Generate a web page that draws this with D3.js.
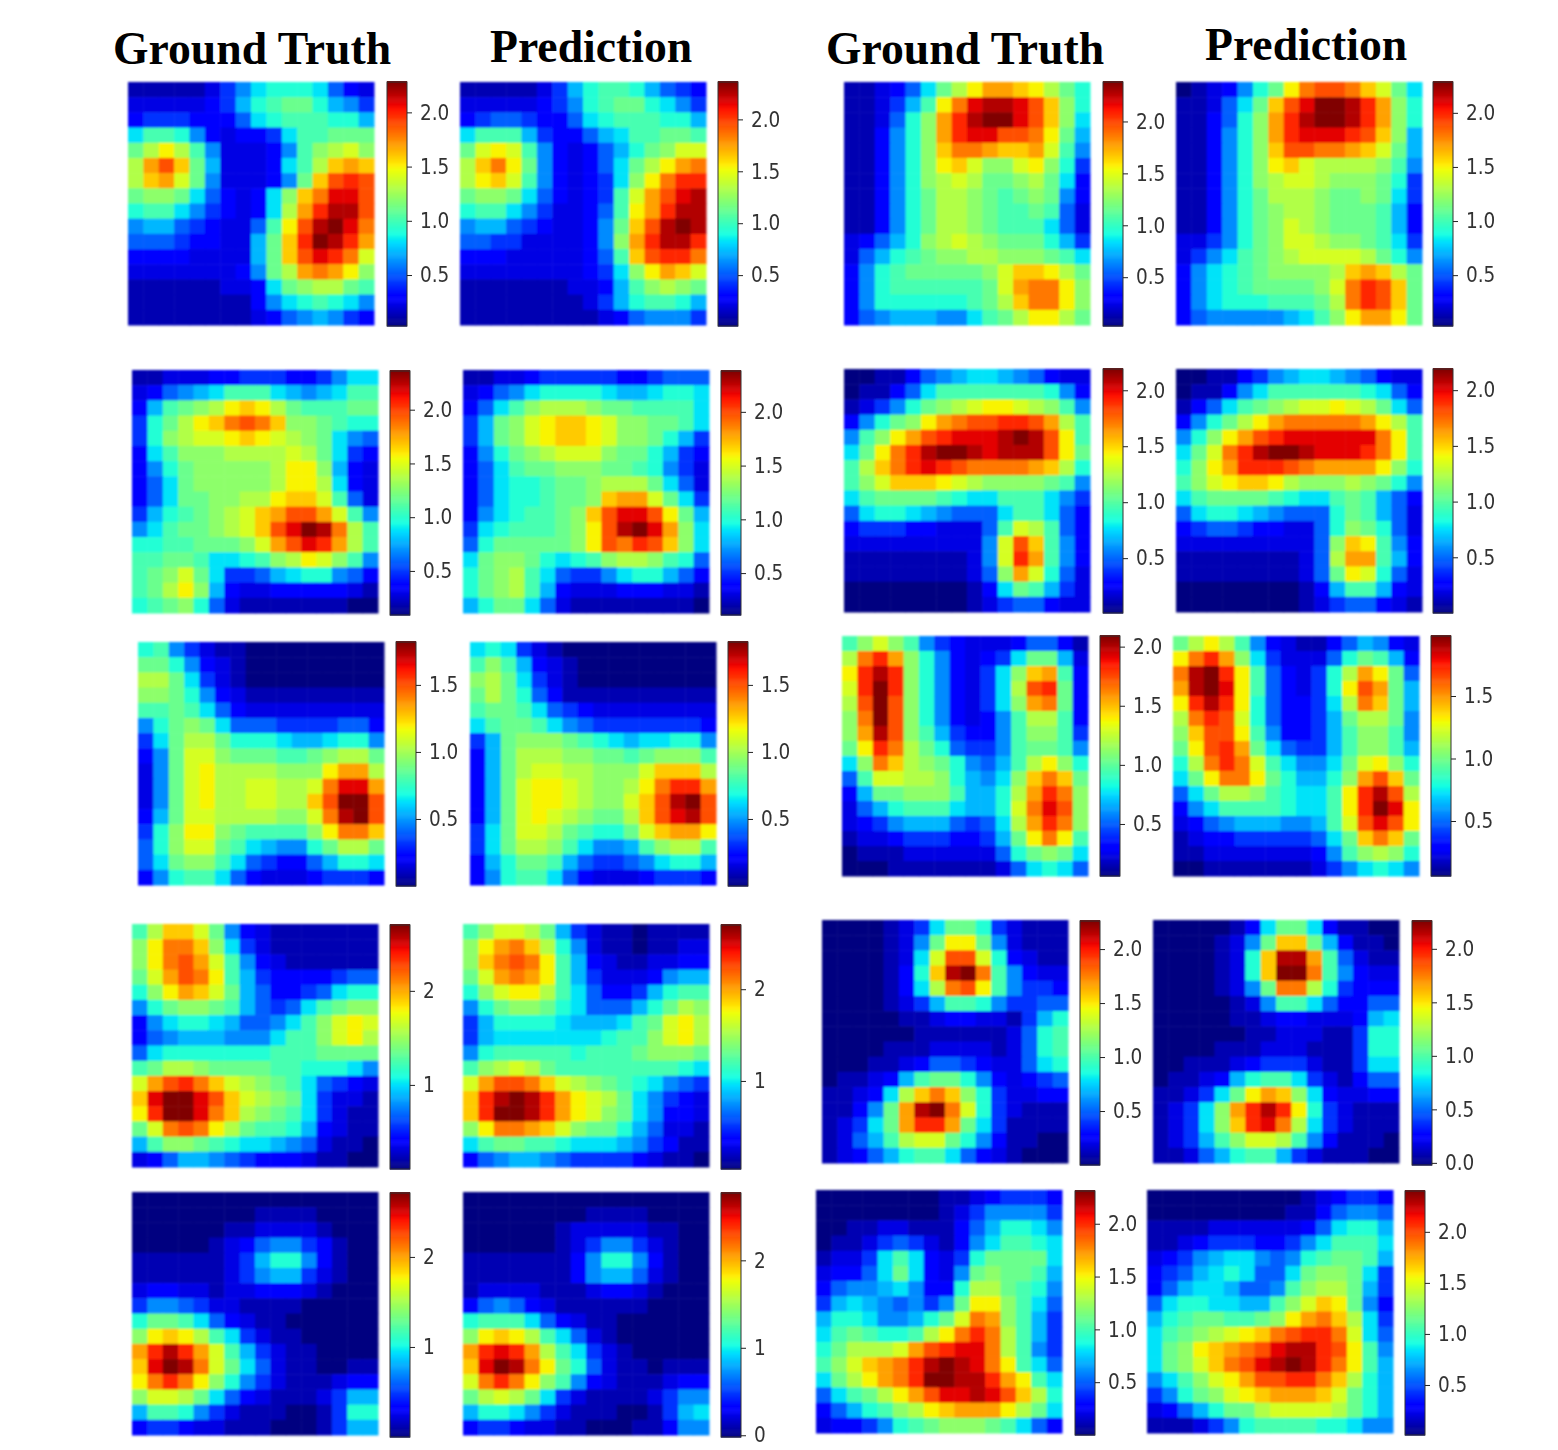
<!DOCTYPE html>
<html>
<head>
<meta charset="utf-8">
<script src="https://d3js.org/d3.v7.min.js"></script>
<style>
  html, body { margin: 0; padding: 0; background: #fff; }
  svg { display: block; }
  .tick text { font-family: "DejaVu Sans", sans-serif; font-size: 21px; fill: #333; }
  .title { font-family: "Liberation Serif", serif; font-weight: bold; font-size: 45.7px; fill: #000; }
</style>
</head>
<body>
<svg id="chart" width="1558" height="1450"></svg>
<script>
// cell values, as steps on the colour range (0 = bottom of colorbar, 23 = top)
var gt1 = [
[1,1,1,1,1,2,4,6,8,9,9,9,8,5,3,2],[2,2,2,2,2,3,4,7,9,10,11,11,9,7,6,4],[3,4,4,4,3,3,3,5,8,9,10,10,10,9,9,7],[8,10,10,9,6,3,2,3,3,4,8,10,10,11,11,11],
[11,13,15,13,10,6,2,2,2,3,6,10,12,13,14,12],[13,17,19,16,11,7,2,2,2,3,8,10,13,16,17,16],[13,16,17,14,11,6,2,2,2,3,6,11,16,19,20,19],[11,12,12,11,8,5,3,2,3,8,12,16,18,21,21,19],
[9,10,10,8,6,4,3,2,3,8,13,17,20,22,22,19],[6,7,7,5,4,3,2,2,5,10,15,19,22,23,21,18],[5,5,5,4,3,3,2,2,7,11,16,20,23,22,20,17],[3,3,3,3,2,2,2,2,7,11,16,19,21,20,18,14],
[2,2,2,2,2,2,2,3,6,11,13,17,18,17,15,12],[1,1,1,1,1,1,2,2,3,8,11,12,13,13,11,10],[1,1,1,1,1,1,1,1,3,6,8,9,10,9,8,6],[1,1,1,1,1,1,1,1,2,3,5,6,7,6,4,3]];
var pred1 = [
[1,1,1,1,1,2,4,7,9,10,10,9,7,5,4,3],[2,2,2,2,2,3,4,6,9,10,11,11,9,8,6,4],[3,4,5,5,4,3,3,5,8,9,10,10,10,9,9,7],[8,10,10,10,7,4,3,3,5,7,8,10,10,11,11,10],
[11,14,15,14,10,6,3,2,3,5,7,9,11,12,14,14],[13,16,18,15,11,6,3,2,3,5,8,11,13,15,17,18],[13,15,16,14,10,6,3,2,3,4,8,12,15,18,20,20],[11,12,12,11,8,5,3,2,3,4,10,14,17,19,21,22],
[9,10,10,8,6,4,2,2,3,5,10,15,17,20,22,22],[6,7,7,5,4,3,2,2,3,6,11,16,19,22,23,22],[5,5,4,4,2,2,2,2,3,6,12,17,20,22,22,20],[3,3,3,2,2,2,2,2,3,5,10,16,19,20,20,18],
[2,2,2,2,2,2,2,2,3,4,8,12,15,17,16,14],[1,1,1,1,1,1,1,2,2,3,7,10,12,13,12,11],[1,1,1,1,1,1,1,1,2,4,7,9,10,10,9,7],[1,1,1,1,1,1,1,1,1,2,3,5,6,6,6,4]];
var gt2 = [
[1,1,2,3,5,8,11,13,15,17,17,16,15,13,11,9],[1,1,2,4,7,10,15,18,21,22,22,21,19,16,12,9],[1,1,2,5,9,12,17,20,22,23,23,21,19,16,12,8],[1,1,3,6,9,12,17,20,21,21,19,19,18,15,11,7],
[1,1,3,6,9,12,16,18,18,17,16,16,17,14,10,6],[1,1,3,6,9,12,15,16,14,12,12,14,15,12,9,4],[1,1,3,6,9,12,13,14,13,11,11,12,13,11,8,3],[1,1,3,6,9,11,13,13,12,11,10,11,12,11,6,3],
[1,1,3,6,9,11,13,13,12,11,10,10,11,10,5,2],[1,1,3,6,9,11,13,13,12,11,10,10,10,8,5,2],[2,3,5,7,9,12,13,14,13,12,11,11,11,9,7,4],[2,5,7,9,10,11,12,12,13,13,12,12,12,11,10,8],
[3,6,9,10,11,11,11,11,11,12,14,16,16,15,13,11],[3,6,9,10,10,10,10,10,10,11,14,17,18,18,15,12],[3,6,9,9,9,9,9,9,10,11,13,16,18,18,15,12],[3,5,6,7,7,7,6,6,8,10,11,13,15,15,13,11]];
var pred2 = [
[0,1,2,3,6,9,11,15,18,19,19,18,16,14,11,8],[1,1,2,5,8,11,16,19,21,23,23,22,20,17,12,9],[1,1,3,5,9,12,17,20,22,23,23,22,20,17,12,9],[1,1,3,6,9,12,17,20,21,21,21,20,19,16,12,7],
[1,1,3,6,9,12,16,19,19,18,18,17,16,14,11,7],[1,1,3,6,9,12,15,16,14,13,13,13,13,12,10,6],[1,1,3,6,9,12,13,14,14,13,12,12,12,11,9,4],[1,1,3,6,9,11,13,13,13,12,11,11,12,11,8,4],
[1,1,3,6,9,11,12,13,13,12,11,11,11,10,7,3],[1,1,3,6,9,11,12,14,13,12,11,11,11,10,7,3],[2,2,4,6,9,11,12,14,14,13,12,12,11,10,8,4],[2,4,6,8,10,11,12,13,14,14,14,14,13,11,9,6],
[3,6,8,9,10,11,12,12,12,12,13,16,17,16,13,11],[3,6,8,9,10,11,11,11,11,12,14,18,20,19,16,11],[3,6,8,9,9,9,10,10,10,11,13,18,20,19,16,11],[3,5,6,6,6,6,6,7,8,10,12,15,17,17,15,11]];
var gt3 = [
[1,1,2,2,2,3,3,4,4,4,3,3,4,6,8,8],[2,3,5,6,7,8,10,10,10,8,7,6,7,8,10,10],[3,7,10,11,12,13,15,16,15,13,11,10,10,10,11,11],[4,9,11,13,15,16,18,19,18,16,12,12,11,10,9,9],
[4,9,12,13,14,14,15,16,15,14,13,12,11,8,6,5],[3,8,10,12,12,12,13,13,13,13,14,13,11,8,4,3],[3,6,9,11,12,12,12,12,12,13,15,15,12,7,3,2],[3,5,8,11,12,12,12,12,12,13,15,15,13,8,3,2],
[3,5,8,11,11,12,12,13,13,15,16,16,14,10,5,2],[4,7,9,10,11,12,13,14,16,17,19,19,17,14,10,6],[6,8,10,11,11,12,13,14,16,19,21,23,22,18,13,10],[9,9,10,10,11,11,11,12,14,17,19,21,20,17,13,10],
[10,10,11,11,10,8,8,9,10,12,13,15,14,12,10,6],[10,11,12,14,11,8,4,4,5,7,8,9,9,6,5,3],[10,11,13,15,12,7,3,2,2,3,3,3,3,3,2,1],[9,10,11,12,9,5,2,1,1,1,1,1,1,1,0,0]];
var pred3 = [
[1,1,2,2,3,4,4,4,4,4,3,3,4,5,5,5],[2,3,5,6,8,9,9,9,9,8,7,7,8,9,9,8],[3,5,8,10,12,13,13,13,12,11,11,10,10,10,10,8],[4,7,11,12,14,15,16,16,15,14,12,12,11,11,10,8],
[4,7,11,12,14,15,16,16,15,14,12,12,11,9,7,4],[3,6,9,11,12,13,14,14,14,12,11,11,9,7,4,3],[3,5,8,10,11,11,12,12,12,11,11,10,9,6,4,2],[3,5,8,9,9,10,11,11,12,13,13,13,11,8,5,2],
[3,5,8,9,9,10,11,11,12,16,17,17,14,11,8,4],[3,6,8,9,10,10,11,12,16,19,21,21,19,15,11,7],[4,8,9,10,10,10,11,12,15,19,22,23,21,17,12,8],[5,9,11,11,11,11,11,12,15,19,18,20,19,16,12,8],
[8,11,12,12,11,9,8,9,10,12,13,13,12,10,9,5],[9,11,12,13,10,8,5,4,4,6,8,9,9,7,5,3],[9,11,12,13,10,7,3,2,2,2,3,3,3,2,2,1],[7,9,11,11,8,5,2,1,1,1,1,1,1,1,1,0]];
var gt4 = [
[0,0,1,1,3,5,6,7,8,8,7,6,5,3,2,2],[0,1,1,3,5,8,10,10,10,10,10,10,10,9,6,3],[1,2,4,6,9,11,12,13,14,15,15,14,13,12,10,6],[3,6,9,11,12,15,17,18,19,19,20,20,19,17,13,10],
[6,10,12,15,17,19,20,21,21,21,22,23,22,19,15,10],[8,11,15,18,20,22,23,23,22,21,22,22,22,19,15,11],[10,13,16,18,20,21,20,19,18,18,18,18,17,16,13,9],[10,12,14,16,16,16,15,14,13,12,12,12,12,11,10,6],
[8,10,11,11,11,11,10,9,8,8,10,10,10,8,6,4],[5,8,9,9,8,7,6,5,5,5,8,10,10,8,5,3],[3,4,4,4,3,3,2,2,2,5,10,14,13,10,5,3],[2,2,2,2,2,2,2,2,2,6,14,19,16,10,6,3],
[1,1,1,1,1,1,1,1,2,6,14,20,17,10,6,3],[1,1,1,1,1,1,1,1,2,5,12,17,14,9,5,2],[0,0,0,0,0,0,0,0,1,3,8,11,10,7,4,2],[0,0,0,0,0,0,0,0,1,2,4,5,5,3,2,2]];
var pred4 = [
[0,0,1,1,3,4,6,7,8,8,7,6,5,3,2,2],[0,1,1,3,6,8,10,10,10,10,10,10,9,8,5,3],[1,3,5,8,10,11,12,13,14,14,15,14,13,11,8,5],[3,6,9,11,13,15,17,18,18,18,18,18,17,15,13,10],
[6,9,12,15,17,19,20,21,21,21,21,21,21,18,15,10],[8,11,14,18,20,22,23,23,22,21,21,21,20,18,15,10],[9,12,15,17,20,20,20,19,18,17,17,17,17,15,12,9],[10,12,14,15,16,16,15,13,12,12,12,13,12,11,9,6],
[8,10,11,11,11,11,10,9,8,8,10,11,10,7,5,3],[5,8,9,9,8,7,6,5,5,5,9,11,10,7,5,2],[3,4,5,5,4,3,3,2,2,5,9,12,11,9,5,2],[2,2,2,2,2,2,2,2,2,5,12,16,15,10,6,3],
[1,1,1,1,1,1,1,1,2,5,13,17,17,10,7,3],[1,1,1,1,1,1,1,1,2,5,11,15,14,9,5,2],[0,0,0,0,0,0,0,0,1,3,7,10,10,7,3,2],[0,0,0,0,0,0,0,0,1,2,4,5,5,3,2,1]];
var gt5 = [
[9,10,6,4,2,1,1,0,0,0,0,0,0,0,0,0],[11,11,9,6,3,2,1,0,0,0,0,0,0,0,0,0],[13,13,11,8,4,2,1,0,0,0,0,0,0,0,0,0],[12,12,11,9,6,3,2,1,1,1,1,1,1,1,1,1],
[10,10,11,10,8,5,3,2,2,2,2,2,2,2,2,2],[6,9,11,12,11,8,5,5,5,4,4,4,4,5,5,3],[4,8,11,13,13,11,9,9,9,8,7,7,8,9,9,6],[3,6,11,14,14,12,11,11,11,10,10,11,12,13,13,11],
[2,6,11,14,15,13,13,13,13,12,12,12,15,17,17,13],[2,6,11,14,15,13,13,14,14,13,13,14,18,21,21,17],[2,6,11,14,15,13,13,14,14,13,13,16,19,23,23,19],[3,7,11,14,14,13,13,13,13,12,12,14,18,22,23,19],
[4,9,12,15,15,12,11,10,10,10,10,12,15,18,18,16],[5,9,12,14,14,11,10,8,7,6,6,9,11,13,13,11],[5,8,11,12,12,10,8,5,4,3,3,5,7,9,9,8],[3,6,9,10,10,8,5,3,2,2,2,3,4,4,4,3]];
var pred5 = [
[8,9,8,4,2,1,0,0,0,0,0,0,0,0,0,0],[10,12,10,7,3,2,1,0,0,0,0,0,0,0,0,0],[12,13,11,8,4,2,1,0,0,0,0,0,0,0,0,0],[11,13,11,9,5,3,1,1,1,1,1,1,1,1,1,1],
[10,11,11,10,8,5,4,3,2,2,2,2,2,2,2,2],[8,10,11,11,10,8,6,5,4,4,4,4,4,4,4,3],[4,7,11,12,12,12,11,10,9,8,7,8,8,9,9,6],[3,7,11,13,13,13,12,12,11,11,10,11,12,12,12,10],
[3,7,11,13,14,14,13,13,12,12,12,14,16,16,16,13],[3,7,11,14,15,15,14,13,12,12,13,15,18,20,20,17],[3,7,11,14,15,15,14,13,12,12,14,16,19,22,23,19],[3,7,11,14,15,14,13,12,11,11,13,16,19,21,22,19],
[4,8,11,14,14,13,11,10,9,9,11,14,16,17,17,15],[4,8,11,13,13,12,10,8,6,6,7,10,12,13,13,10],[3,7,9,11,11,10,7,5,4,4,5,6,8,9,9,7],[3,6,9,10,10,8,5,3,2,2,2,3,4,4,4,3]];
var gt6 = [
[10,12,14,12,10,6,4,3,2,2,2,3,5,5,3,1],[13,18,20,17,12,9,6,3,2,3,4,8,11,11,7,2],[15,20,22,20,12,9,6,3,2,4,8,12,16,17,10,3],[14,20,23,20,12,9,6,3,2,4,8,13,19,20,11,3],
[13,19,23,19,12,9,6,3,2,4,8,12,17,18,11,3],[12,18,23,19,12,9,6,3,2,3,6,10,13,13,10,3],[12,17,22,19,12,10,7,4,3,3,6,10,12,12,10,4],[11,15,20,18,13,11,9,5,4,4,6,10,11,11,10,6],
[8,12,18,16,13,12,11,9,6,5,7,10,13,15,12,9],[5,10,14,14,13,13,12,9,7,6,8,12,16,18,16,11],[3,7,11,11,12,12,12,10,7,7,9,13,17,20,18,12],[2,5,7,9,10,10,10,8,7,7,9,14,18,21,19,12],
[2,3,4,6,7,7,7,5,4,5,8,13,17,20,18,12],[1,2,2,3,4,4,4,3,3,4,7,11,15,18,15,10],[0,1,1,1,2,2,2,2,2,2,5,9,11,12,11,8],[0,0,0,1,1,1,1,1,1,1,2,5,8,9,8,5]];
var pred6 = [
[11,13,15,13,10,6,3,2,1,1,3,5,7,6,3,2],[15,18,20,17,12,8,4,2,2,2,5,9,11,10,7,3],[18,22,23,20,15,10,5,3,2,4,9,13,17,15,11,5],[17,22,23,21,15,10,5,3,2,4,9,15,19,17,11,7],
[15,20,22,20,15,9,5,3,3,4,8,13,18,16,11,7],[13,18,20,19,14,9,5,3,3,4,7,11,13,13,11,6],[12,16,19,19,15,10,6,3,3,4,7,10,12,12,10,6],[11,15,19,20,17,11,8,5,4,4,7,10,12,12,10,7],
[9,13,18,20,18,14,10,8,6,6,8,11,14,15,12,9],[8,11,15,18,18,15,11,9,7,7,9,12,17,19,16,11],[5,8,11,13,13,12,10,9,8,8,10,15,20,22,19,13],[3,6,8,10,10,10,10,9,8,8,10,15,20,23,21,15],
[2,3,5,6,7,7,7,6,6,7,10,14,19,21,19,15],[1,2,3,3,4,4,4,4,4,5,8,11,16,18,16,11],[1,1,2,2,2,2,2,2,2,3,6,10,12,13,12,9],[0,0,1,1,1,1,1,1,1,2,4,6,8,9,8,6]];
var gt7 = [
[10,13,16,16,14,11,6,3,2,1,1,1,1,1,1,1],[12,15,18,18,16,12,8,4,2,1,1,1,1,1,1,1],[12,15,18,19,17,14,10,6,3,2,1,1,1,1,1,1],[11,14,17,19,18,15,10,7,4,3,3,3,3,4,5,5],
[9,12,15,17,16,14,11,7,5,3,3,4,5,8,9,9],[6,9,11,12,12,11,10,7,5,4,5,8,10,11,12,12],[3,6,8,9,9,8,7,5,5,6,8,10,12,14,15,14],[3,5,6,7,7,7,6,6,6,8,10,10,12,14,15,13],
[5,8,9,9,9,9,9,9,9,10,10,10,11,11,11,11],[10,11,13,13,12,11,11,11,11,10,10,9,9,9,8,6],[14,17,19,20,18,16,14,13,12,11,10,8,5,4,3,2],[16,21,23,23,21,19,16,14,13,12,11,8,4,2,2,1],
[15,20,23,23,21,18,16,13,12,11,10,8,4,2,1,1],[11,14,18,19,18,15,13,11,10,10,9,7,3,2,1,1],[7,10,12,12,11,10,9,8,8,7,6,5,2,1,1,0],[2,3,5,7,7,6,5,4,3,3,3,2,1,1,0,0]];
var pred7 = [
[10,12,14,14,13,11,7,4,2,1,1,0,1,1,1,1],[12,15,17,18,16,13,9,6,2,1,1,0,1,1,2,2],[12,16,18,19,18,15,10,7,3,2,1,1,2,2,3,3],[11,14,17,18,17,15,10,7,4,2,2,2,3,6,7,7],
[9,12,14,15,15,13,10,8,5,3,3,4,7,9,10,10],[6,9,11,12,12,11,9,8,5,5,5,7,9,11,13,12],[4,7,9,9,9,9,8,7,7,7,8,10,11,14,15,13],[4,7,8,8,8,8,8,8,8,9,10,10,12,14,15,13],
[6,9,10,10,10,10,10,9,10,10,10,11,12,12,12,11],[10,12,13,14,13,11,10,10,10,10,10,10,10,10,9,8],[14,17,19,19,18,16,14,13,12,11,10,9,8,6,5,4],[16,20,22,23,22,20,17,15,14,13,11,8,6,4,3,2],
[16,20,23,23,22,20,17,15,14,12,11,8,6,3,3,2],[12,15,18,18,17,16,14,12,11,11,9,7,5,2,2,1],[8,10,11,11,10,10,9,8,8,8,7,6,4,3,1,1],[3,5,6,7,7,6,5,4,4,4,4,3,2,1,1,0]];
var gt8 = [
[0,0,0,0,1,2,4,8,11,11,9,4,2,1,1,1],[0,0,0,0,1,2,6,11,15,15,11,6,2,1,1,1],[0,0,0,0,1,2,8,14,19,19,14,9,3,2,1,1],[0,0,0,0,1,3,9,16,22,23,18,10,6,3,2,2],
[0,0,0,0,1,3,8,13,18,19,15,10,6,4,4,3],[0,0,0,0,1,2,4,7,10,10,9,6,4,4,5,5],[0,0,0,0,0,1,1,2,3,3,2,2,1,4,7,9],[0,0,0,0,0,0,1,1,1,1,1,1,2,5,9,10],
[0,0,0,0,1,1,1,2,2,2,2,1,2,5,9,10],[0,0,0,1,1,2,3,5,5,4,3,2,2,5,8,9],[0,1,1,2,3,7,10,11,11,9,6,3,2,3,4,5],[1,1,2,3,8,13,16,18,16,12,9,4,2,2,3,3],
[1,1,3,6,11,17,22,23,18,14,9,4,2,1,1,1],[1,2,4,8,11,17,20,20,17,11,8,4,1,1,1,1],[1,2,5,7,10,13,14,14,11,9,6,3,1,1,0,0],[1,2,3,5,7,9,10,10,8,5,3,2,1,0,0,0]];
var pred8 = [
[0,0,0,0,0,1,3,8,11,11,8,3,1,1,0,0],[0,0,0,0,1,2,6,11,16,16,11,7,3,1,1,0],[0,0,0,0,1,2,9,16,22,22,17,10,5,2,1,1],[0,0,0,0,1,2,9,16,23,23,18,10,6,3,2,2],
[0,0,0,0,1,2,6,11,18,18,13,9,4,3,3,3],[0,0,0,0,0,1,2,6,10,10,8,5,3,3,5,5],[0,0,0,0,0,1,1,2,3,3,2,2,2,3,7,8],[0,0,0,0,0,0,1,1,2,2,2,1,1,4,9,9],
[0,0,0,0,1,1,1,2,2,2,1,1,1,4,9,9],[0,0,1,1,1,2,3,4,4,4,2,1,1,4,8,8],[0,1,1,2,3,7,9,10,10,8,4,2,1,3,5,5],[1,1,2,4,8,11,15,17,16,12,8,3,2,2,3,3],
[1,2,4,8,12,17,20,22,20,15,9,4,2,1,1,1],[1,2,4,8,12,16,20,21,18,13,8,4,2,1,1,1],[1,2,4,7,10,12,14,14,13,10,6,3,1,1,1,0],[1,1,2,5,7,9,10,10,7,4,2,1,1,1,0,0]];
var gt9 = [
[0,0,0,0,0,0,0,0,0,0,0,0,0,0,0,0],[0,0,0,0,0,0,0,0,1,1,1,1,0,0,0,0],[0,0,0,0,0,0,1,1,2,2,2,2,1,0,0,0],[0,0,0,0,0,1,2,3,5,6,6,4,3,1,0,0],
[1,1,1,1,1,1,2,4,7,9,9,6,3,1,0,0],[1,1,1,1,1,1,2,4,6,7,7,4,2,1,0,0],[2,3,3,2,2,1,2,2,3,3,3,2,1,0,0,0],[4,6,6,5,4,2,2,1,1,1,1,0,0,0,0,0],
[9,11,11,10,8,5,3,2,1,1,0,0,0,0,0,0],[12,15,16,15,13,10,8,4,2,1,1,0,0,0,0,0],[17,20,22,20,17,14,10,7,4,2,1,1,0,0,0,0],[16,21,23,22,18,14,11,8,5,2,1,1,0,0,1,1],
[15,18,20,18,15,12,9,6,4,2,1,1,1,2,3,3],[12,14,14,13,11,8,5,3,2,1,1,1,2,4,7,7],[7,10,10,9,6,4,2,1,1,1,0,0,1,4,9,9],[3,4,4,3,2,2,1,1,1,0,0,0,1,4,7,7]];
var pred9 = [
[0,0,0,0,0,0,0,0,0,0,0,0,0,0,0,0],[0,0,0,0,0,0,0,0,1,1,1,1,0,0,0,0],[0,0,0,0,0,0,1,2,2,2,2,2,1,1,0,0],[0,0,0,0,0,0,1,2,4,6,6,4,2,1,0,0],
[1,1,1,1,1,1,1,3,6,9,9,6,3,1,0,0],[1,1,1,1,1,1,1,3,6,7,7,5,2,1,0,0],[1,2,2,2,2,1,1,1,2,3,3,2,1,0,0,0],[3,5,6,5,3,2,1,1,1,1,1,1,0,0,0,0],
[9,10,10,10,8,5,3,2,1,1,0,0,0,0,0,0],[12,15,16,15,13,10,8,5,2,1,0,0,0,0,0,0],[17,20,21,20,17,13,10,8,4,2,1,0,0,0,0,0],[16,21,23,22,18,15,11,9,5,2,1,1,0,1,1,1],
[14,18,20,18,15,12,10,6,3,2,1,1,1,2,3,3],[11,13,14,13,11,8,4,2,1,1,1,1,2,4,6,6],[7,9,9,8,6,4,2,1,1,1,0,0,1,4,7,8],[3,4,4,3,2,2,1,1,0,0,0,1,1,3,6,6]];
var gt10 = [
[0,0,0,0,0,0,0,0,1,1,2,3,4,4,4,3],[0,0,0,0,0,0,0,0,1,2,4,6,6,6,6,4],[0,0,1,1,2,2,1,1,1,3,5,7,9,9,8,6],[0,1,1,2,4,5,4,2,1,3,6,8,10,10,9,8],
[1,2,2,4,8,10,8,3,2,4,9,11,11,11,11,8],[2,3,3,5,8,11,8,3,2,6,11,12,11,11,10,7],[3,5,6,6,7,8,6,3,3,9,13,13,11,10,9,6],[4,7,8,7,6,5,6,4,6,11,15,15,12,10,8,5],
[7,9,9,8,6,6,7,9,11,14,18,17,12,10,7,4],[8,10,11,10,9,9,10,13,15,18,20,18,13,10,7,4],[9,11,13,13,13,14,17,19,20,21,21,18,13,10,6,4],[10,12,14,16,17,18,20,22,23,22,21,18,15,10,8,5],
[8,11,13,15,17,18,20,23,23,22,22,20,17,15,10,8],[5,8,10,11,13,15,17,19,21,21,22,21,19,16,13,9],[3,5,7,9,10,12,13,15,16,17,17,17,15,13,11,8],[2,3,3,4,6,9,10,11,12,12,12,11,10,8,5,3]];
var pred10 = [
[0,0,0,0,0,0,0,0,0,0,1,2,3,4,4,3],[0,0,0,0,0,0,0,0,0,1,1,3,5,6,6,5],[1,1,1,1,2,2,2,2,2,2,3,5,8,9,9,7],[1,1,2,3,4,4,4,3,3,4,6,8,10,10,10,8],
[2,3,4,6,7,8,8,6,5,6,9,10,11,11,10,7],[3,4,5,7,8,9,8,5,5,8,11,12,12,11,8,4],[3,5,7,8,8,7,5,5,6,10,12,13,13,11,7,4],[5,8,9,9,8,8,7,7,10,12,14,16,15,11,6,3],
[7,9,10,11,11,10,10,11,12,15,17,18,16,13,8,4],[8,10,11,12,13,14,15,16,18,19,20,20,18,14,8,5],[8,11,12,15,16,17,18,19,21,22,22,20,19,15,10,6],[8,11,12,14,16,18,19,21,22,23,22,20,18,15,10,7],
[6,8,10,12,14,15,17,19,19,20,20,18,16,13,9,7],[4,6,9,11,12,14,15,16,17,17,17,16,14,11,9,7],[2,3,5,7,9,11,11,13,14,14,14,14,13,11,9,7],[1,1,1,2,4,6,9,10,10,10,10,9,9,8,6,6]];

var titles = ["Ground Truth", "Prediction", "Ground Truth", "Prediction"];
var ticksHalf = [0.5, 1, 1.5, 2];
var ticksRow3 = [0.5, 1, 1.5];
var ticksUnit = [1, 2];

// page layout: left edge of heatmap and colorbar, top of each, colorbar range
var panels = [
  {data: gt1, x: 128, y: 82, cx: 387, cy: 82, range: [0.03, 2.28], ticks: ticksHalf},
  {data: pred1, x: 460, y: 82, cx: 718, cy: 82, range: [0.01, 2.36], ticks: ticksHalf},
  {data: gt2, x: 844, y: 82, cx: 1103, cy: 82, range: [0.03, 2.38], ticks: ticksHalf},
  {data: pred2, x: 1176, y: 82, cx: 1433, cy: 82, range: [0.03, 2.285], ticks: ticksHalf},
  {data: gt3, x: 132, y: 370, cx: 390, cy: 371, range: [0.09, 2.36], ticks: ticksHalf},
  {data: pred3, x: 463, y: 370, cx: 721, cy: 371, range: [0.11, 2.38], ticks: ticksHalf},
  {data: gt4, x: 844, y: 369, cx: 1103, cy: 369, range: [0.01, 2.19], ticks: ticksHalf},
  {data: pred4, x: 1176, y: 369, cx: 1433, cy: 369, range: [0, 2.19], ticks: ticksHalf},
  {data: gt5, x: 138, y: 642, cx: 396, cy: 642, range: [0, 1.82], ticks: ticksRow3},
  {data: pred5, x: 470, y: 642, cx: 728, cy: 642, range: [0, 1.82], ticks: ticksRow3},
  {data: gt6, x: 842, y: 636, cx: 1100, cy: 636, h: 240, range: [0.06, 2.09], ticks: ticksHalf},
  {data: pred6, x: 1173, y: 636, cx: 1431, cy: 636, h: 240, range: [0.06, 1.98], ticks: ticksRow3},
  {data: gt7, x: 132, y: 924, cx: 390, cy: 925, range: [0.106, 2.7], ticks: ticksUnit},
  {data: pred7, x: 463, y: 924, cx: 721, cy: 925, range: [0.04, 2.7], ticks: ticksUnit},
  {data: gt8, x: 822, y: 920, cx: 1080, cy: 921, range: [0, 2.26], ticks: ticksHalf},
  {data: pred8, x: 1153, y: 920, cx: 1412, cy: 921, range: [-0.02, 2.26], ticks: [0, 0.5, 1, 1.5, 2]},
  {data: gt9, x: 132, y: 1192, cx: 390, cy: 1193, range: [0, 2.71], ticks: ticksUnit},
  {data: pred9, x: 463, y: 1192, cx: 721, cy: 1193, range: [-0.02, 2.77], ticks: [0, 1, 2]},
  {data: gt10, x: 816, y: 1190, cx: 1075, cy: 1191, range: [0, 2.31], ticks: ticksHalf},
  {data: pred10, x: 1147, y: 1190, cx: 1405, cy: 1191, range: [0.01, 2.4], ticks: ticksHalf}
];

var titleX = [113, 490, 826, 1205], titleY = [64, 62, 64, 60];

var svg = d3.select("svg#chart");

// the reference is an upscaled raster, a small blur gets the same soft edges
var defs = svg.append("defs");
defs.append("filter").attr("id", "soft")
  .append("feGaussianBlur").attr("stdDeviation", 0.8);
defs.append("filter").attr("id", "softText")
  .append("feGaussianBlur").attr("stdDeviation", 0.35);

// matplotlib jet
var jetR = d3.scaleLinear().domain([0, 0.35, 0.66, 0.89, 1]).range([0, 0, 1, 1, 0.5]).clamp(true),
    jetG = d3.scaleLinear().domain([0, 0.125, 0.375, 0.64, 0.91, 1]).range([0, 0, 1, 1, 0, 0]).clamp(true),
    jetB = d3.scaleLinear().domain([0, 0.11, 0.34, 0.65, 1]).range([0.5, 1, 1, 0, 0]).clamp(true);
function jet(t) {
  return d3.rgb(jetR(t) * 255, jetG(t) * 255, jetB(t) * 255).formatRgb();
}

svg.selectAll("text.title")
  .data(titles)
  .enter().append("text")
    .attr("class", "title")
    .attr("x", function(d, i) { return titleX[i]; })
    .attr("y", function(d, i) { return titleY[i]; })
    .text(function(d) { return d; });

var cellColor = d3.scaleLinear().domain([0, 23]).range([0, 1]);
var steps = d3.range(0, 256);

panels.forEach(function(p) {
  var w = 246, h = p.h || 243, barH = p.h || 244;
  var x = d3.scaleBand().domain(d3.range(16)).range([p.x, p.x + w]);
  var y = d3.scaleBand().domain(d3.range(16)).range([p.y, p.y + h]);

  svg.append("g")
    .attr("filter", "url(#soft)")
    .selectAll("g")
    .data(p.data)
    .enter().append("g")
      .attr("transform", function(d, i) { return "translate(0," + y(i) + ")"; })
    .selectAll("rect")
    .data(function(d) { return d; })
    .enter().append("rect")
      .attr("x", function(d, i) { return x(i); })
      .attr("width", x.bandwidth() + 0.5)
      .attr("height", y.bandwidth() + 0.5)
      .attr("fill", function(d) { return jet(cellColor(d)); });

  // colorbar
  var c = d3.scaleLinear().domain(p.range).range([p.cy + barH, p.cy]);
  var s = d3.scaleLinear().domain([0, 255]).range(p.range);
  var bar = svg.append("g");
  bar.selectAll("rect")
    .data(steps)
    .enter().append("rect")
      .attr("x", p.cx)
      .attr("y", function(d) { return c(s(d)) - barH / 256; })
      .attr("width", 20)
      .attr("height", barH / 256 + 0.6)
      .attr("fill", function(d) { return jet(d / 255); });
  bar.append("rect")
    .attr("x", p.cx).attr("y", p.cy).attr("width", 20).attr("height", barH)
    .attr("fill", "none").attr("stroke", "#333").attr("stroke-width", 1);

  var fmt = p.ticks.every(Number.isInteger) ? d3.format("d") : d3.format(".1f");
  var axis = svg.append("g")
    .attr("transform", "translate(" + (p.cx + 20) + ",0)")
    .call(d3.axisRight(c).tickValues(p.ticks).tickFormat(fmt).tickSize(5));
  axis.select(".domain").remove();
  axis.selectAll(".tick line").attr("stroke", "#222");
  // tick labels are narrower than plain DejaVu in the reference
  axis.selectAll(".tick text")
    .attr("x", 0)
    .attr("transform", "translate(13,0) scale(0.88,1)")
    .attr("filter", "url(#softText)");
});
</script>
</body>
</html>
